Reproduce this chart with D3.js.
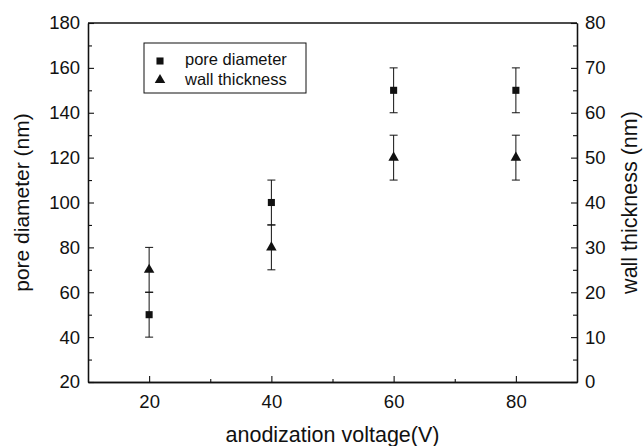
<!DOCTYPE html>
<html>
<head>
<meta charset="utf-8">
<script src="https://cdn.jsdelivr.net/npm/d3@7"></script>
<style>
  body { margin: 0; background: #fff; }
  text { font-family: "Liberation Sans", Arial, sans-serif; fill: #111; }
</style>
</head>
<body>
<div id="chart"></div>
<script>
/* pore diameter + wall thickness vs anodization voltage, two y axes */

const voltage = [20, 40, 60, 80];
const poreDiameter = [50, 100, 150, 150];   // nm, left axis
const poreErr = [10, 10, 10, 10];
const wallThickness = [25, 30, 50, 50];     // nm, right axis
const wallErr = [5, 5, 5, 5];

const xTicks = [20, 40, 60, 80];
const leftTicks = [20, 40, 60, 80, 100, 120, 140, 160, 180];
const rightTicks = [0, 10, 20, 30, 40, 50, 60, 70, 80];

const width = 644, height = 446,
    margin = ({top: 23, right: 67, bottom: 64, left: 88});

let svg = d3.select('#chart')
    .append('svg')
    .attr('width', width)
    .attr('height', height);

let x = d3.scaleLinear()
    .domain([10, 90])
    .range([margin.left, width - margin.right]);

let yL = d3.scaleLinear()
    .domain([20, 180])
    .range([height - margin.bottom, margin.top]);

let yR = d3.scaleLinear()
    .domain([0, 80])
    .range([height - margin.bottom, margin.top]);

// frame: top line has no ticks
svg.append('line')
    .attr('x1', margin.left).attr('x2', width - margin.right)
    .attr('y1', margin.top).attr('y2', margin.top)
    .attr('stroke', '#111').attr('stroke-width', 1.3);

// ticks point inward, minor ticks between majors
const fixAxis = g => {
    g.select('.domain').attr('stroke', '#111').attr('stroke-width', 1.3);
    g.selectAll('.tick line').attr('stroke', '#111').attr('stroke-width', 1.1);
    g.selectAll('text').style('font-size', '18.5px');
};

svg.append('g')
    .attr('transform', `translate(0, ${height - margin.bottom})`)
    .call(d3.axisBottom(x).tickValues(xTicks).tickSize(-6).tickPadding(13).tickSizeOuter(0))
    .call(fixAxis);
svg.append('g')
    .attr('transform', `translate(0, ${height - margin.bottom})`)
    .call(d3.axisBottom(x).tickValues([30, 50, 70]).tickSize(-3).tickFormat('').tickSizeOuter(0))
    .call(fixAxis);

svg.append('g')
    .attr('transform', `translate(${margin.left}, 0)`)
    .call(d3.axisLeft(yL).tickValues(leftTicks).tickSize(-6).tickPadding(8).tickSizeOuter(0))
    .call(fixAxis);
svg.append('g')
    .attr('transform', `translate(${margin.left}, 0)`)
    .call(d3.axisLeft(yL).tickValues(d3.range(30, 180, 20)).tickSize(-4).tickFormat('').tickSizeOuter(0))
    .call(fixAxis);

svg.append('g')
    .attr('transform', `translate(${width - margin.right}, 0)`)
    .call(d3.axisRight(yR).tickValues(rightTicks).tickSize(-6).tickPadding(8).tickSizeOuter(0))
    .call(fixAxis);
svg.append('g')
    .attr('transform', `translate(${width - margin.right}, 0)`)
    .call(d3.axisRight(yR).tickValues(d3.range(5, 80, 10)).tickSize(-4).tickFormat('').tickSizeOuter(0))
    .call(fixAxis);

// axis titles
const midY = (margin.top + height - margin.bottom) / 2;
svg.append('text')
    .attr('x', (margin.left + width - margin.right) / 2)
    .attr('y', 442)
    .attr('text-anchor', 'middle')
    .style('font-size', '21.5px')
    .text('anodization voltage(V)');

svg.append('text')
    .attr('transform', `translate(29, ${midY}) rotate(-90)`)
    .attr('text-anchor', 'middle')
    .style('font-size', '21px')
    .text('pore diameter (nm)');

svg.append('text')
    .attr('transform', `translate(637, ${midY}) rotate(-90)`)
    .attr('text-anchor', 'middle')
    .style('font-size', '21.5px')
    .text('wall thickness (nm)');

const square = d3.symbol().type(d3.symbolSquare).size(50);
const triangle = d3.symbol().type(d3.symbolTriangle).size(48);

const drawSeries = (vals, errs, y, sym) => {
    let g = svg.append('g');
    let pts = voltage.map((v, i) => ({v: v, val: vals[i], e: errs[i]}));
    g.selectAll('line.err')
        .data(pts).join('line')
        .attr('x1', d => x(d.v)).attr('x2', d => x(d.v))
        .attr('y1', d => y(d.val - d.e)).attr('y2', d => y(d.val + d.e))
        .attr('stroke', '#111').attr('stroke-width', 1);
    g.selectAll('line.top')
        .data(pts).join('line')
        .attr('x1', d => x(d.v) - 4).attr('x2', d => x(d.v) + 4)
        .attr('y1', d => y(d.val + d.e)).attr('y2', d => y(d.val + d.e))
        .attr('stroke', '#111').attr('stroke-width', 1);
    g.selectAll('line.bot')
        .data(pts).join('line')
        .attr('x1', d => x(d.v) - 4).attr('x2', d => x(d.v) + 4)
        .attr('y1', d => y(d.val - d.e)).attr('y2', d => y(d.val - d.e))
        .attr('stroke', '#111').attr('stroke-width', 1);
    g.selectAll('path')
        .data(pts).join('path')
        .attr('d', sym)
        .attr('transform', d => `translate(${x(d.v)}, ${y(d.val)})`)
        .attr('fill', '#111');
};

drawSeries(poreDiameter, poreErr, yL, square);
drawSeries(wallThickness, wallErr, yR, triangle);

// legend
let legend = svg.append('g');
legend.append('rect')
    .attr('x', 144).attr('y', 43)
    .attr('width', 162).attr('height', 50)
    .attr('fill', 'none').attr('stroke', '#111').attr('stroke-width', 1);
legend.append('path').attr('d', square)
    .attr('transform', 'translate(160, 61)').attr('fill', '#111');
legend.append('path').attr('d', triangle)
    .attr('transform', 'translate(160, 80)').attr('fill', '#111');
legend.append('text').attr('x', 185).attr('y', 65)
    .style('font-size', '16.5px').text('pore diameter');
legend.append('text').attr('x', 185).attr('y', 85)
    .style('font-size', '16.5px').text('wall thickness');
</script>
</body>
</html>
